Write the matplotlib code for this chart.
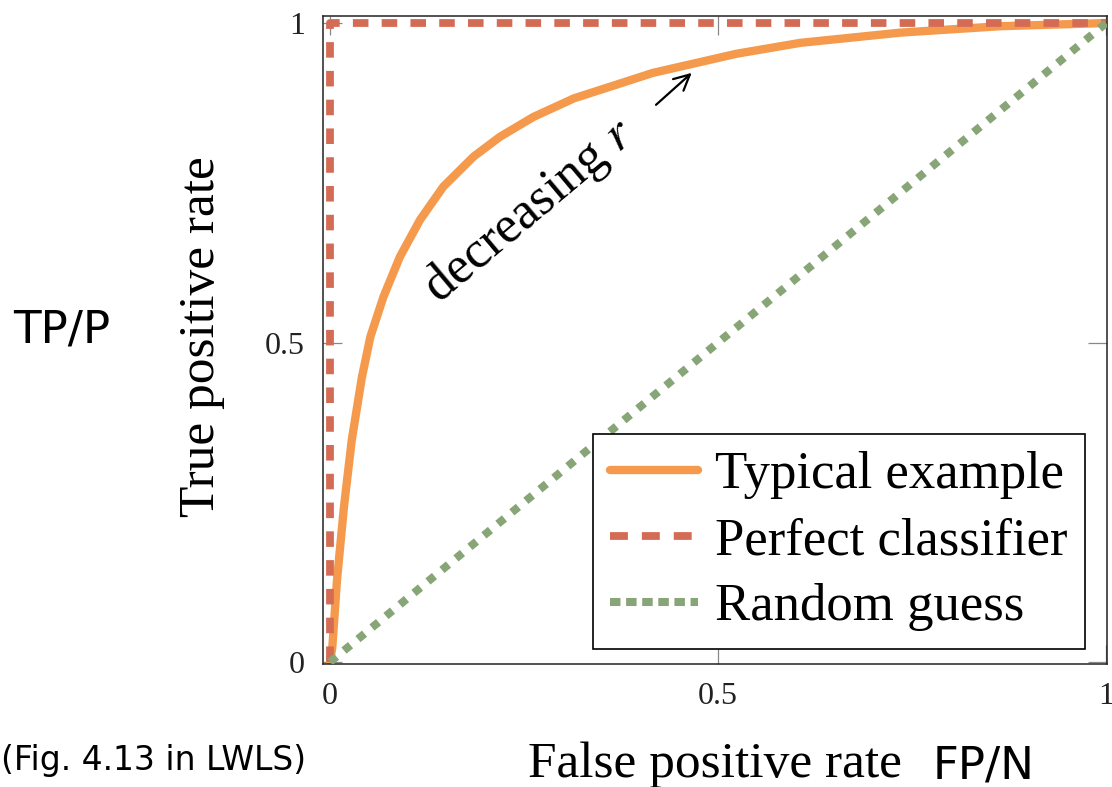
import matplotlib
matplotlib.use("Agg")
import matplotlib.pyplot as plt

plt.rcParams['font.family'] = ['Liberation Serif', 'DejaVu Serif']
plt.rcParams['mathtext.fontset'] = 'stix'

# ---- data ----
fpr_typical = [0, 0.003, 0.009, 0.018, 0.028, 0.041, 0.052, 0.069, 0.090, 0.116,
               0.146, 0.185, 0.219, 0.262, 0.314, 0.416, 0.524, 0.606, 0.735, 0.863, 1.0]
tpr_typical = [0, 0.023, 0.128, 0.243, 0.347, 0.445, 0.509, 0.572, 0.634, 0.692,
               0.744, 0.791, 0.822, 0.853, 0.882, 0.922, 0.952, 0.969, 0.985, 0.995, 1.0]
fpr_perfect = [0, 0, 1]
tpr_perfect = [0, 1, 1]
fpr_random = [0, 1]
tpr_random = [0, 1]
labels = ["Typical example", "Perfect classifier", "Random guess"]
tick_vals = [0, 0.5, 1]
tick_labels = ["0", "0.5", "1"]

W, H = 1112, 787
fig = plt.figure(figsize=(W / 100, H / 100), dpi=100)
ax = fig.add_axes([323 / W, 1 - 664 / H, 784 / W, 648 / H])

c_orange = '#F59A4C'
c_red = '#D46B55'
c_green = '#87A576'

ax.plot(fpr_typical, tpr_typical, color=c_orange, lw=6.0,
        solid_joinstyle='round', solid_capstyle='round', label=labels[0], zorder=2)
ax.plot(fpr_perfect, tpr_perfect, color=c_red, lw=5.6, dashes=(2.0, 1.7),
        dash_capstyle='butt', label=labels[1], zorder=3)
ax.plot(fpr_random, tpr_random, color=c_green, lw=5.8, dashes=(1.05, 1.2),
        dash_capstyle='butt', label=labels[2], zorder=4)

ax.set_xlim(-0.009, 1.001)
ax.set_ylim(-0.003, 1.011)
ax.set_xticks(tick_vals)
ax.set_xticklabels(tick_labels)
ax.set_yticks(tick_vals)
ax.set_yticklabels(tick_labels)
ax.tick_params(direction='in', length=14, width=0.9, color='#888888',
               labelsize=23, labelcolor='#222222', top=True, right=True, pad=13)
for s in ax.spines.values():
    s.set_linewidth(1.1)
    s.set_color('#222222')

ax.text(0.257, 0.707, "decreasing $r$", rotation=40, fontsize=37.5,
        ha='center', va='center', rotation_mode='anchor')
ax.annotate('', xy=(0.466, 0.922), xytext=(0.420, 0.872),
            arrowprops=dict(arrowstyle='->', lw=1.6, color='black',
                            mutation_scale=28, shrinkA=0, shrinkB=0))

leg = ax.legend(loc='upper left', bbox_to_anchor=(593 / W, 1 - 434 / H),
                bbox_transform=fig.transFigure, borderaxespad=0,
                fancybox=False, edgecolor='black', framealpha=1,
                handlelength=1.65, handletextpad=0.33, labelspacing=0.34,
                borderpad=0.33, prop={'family': 'Liberation Serif', 'size': 38})
leg.get_frame().set_linewidth(1.2)
leg_lines = leg.get_lines()
leg_lines[1].set_dashes((2.3, 1.8))
leg_lines[2].set_dashes((1.3, 0.7))

fig.text(202 / W, 1 - 337 / H, "True positive rate", rotation=90, fontsize=37,
         ha='center', va='center')
fig.text(715 / W, 1 - 777 / H, "False positive rate", fontsize=37,
         ha='center', va='baseline')

sans = ['DejaVu Sans']
fig.text(13 / W, 1 - 343 / H, "TP/P", fontsize=32.5, family=sans,
         ha='left', va='baseline')
fig.text(933 / W, 1 - 778 / H, "FP/N", fontsize=32.5, family=sans,
         ha='left', va='baseline')
fig.text(1 / W, 1 - 770 / H, "(Fig. 4.13 in LWLS)", fontsize=23.8, family=sans,
         ha='left', va='baseline')

fig.savefig("out.png", dpi=100)
